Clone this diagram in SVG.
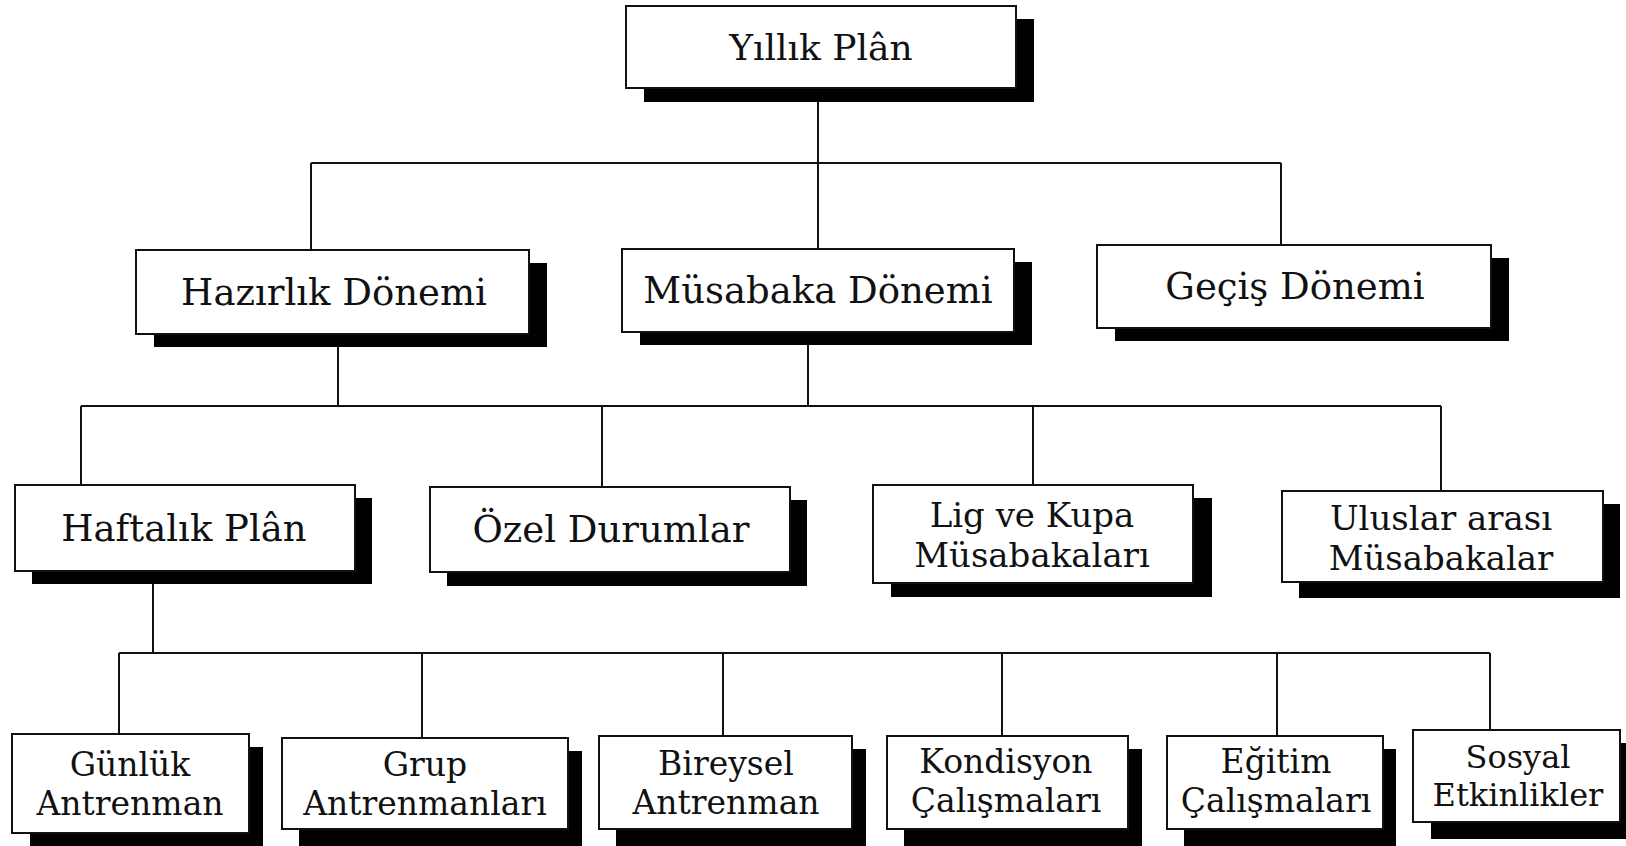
<svg xmlns="http://www.w3.org/2000/svg" width="1626" height="846" viewBox="0 0 1626 846">
<style>
.box{fill:#fff;stroke:#111;stroke-width:2}
.sh{fill:#000}
.ln{stroke:#111;stroke-width:2;fill:none}
text{font-family:"DejaVu Serif","Liberation Serif",serif;fill:#111;text-anchor:middle}
.t1{font-size:36px}
.t2{font-size:37px}
.t3{font-size:34px}
.t4{font-size:33px}
.t4s{font-size:32px}
</style>
<rect width="1626" height="846" fill="#fff"/>
<g id="connectors">
<path class="ln" d="M818 102V249"/>
<path class="ln" d="M311 163H1281M311 163V250M1281 163V245"/>
<path class="ln" d="M338 347V406M808 345V406"/>
<path class="ln" d="M81 406H1441M81 406V485M602 406V487M1033 406V485M1441 406V491"/>
<path class="ln" d="M153 584V653"/>
<path class="ln" d="M119 653H1490M119 653V734M422 653V738M723 653V736M1002 653V736M1277 653V736M1490 653V730"/>
</g>
<g id="yillik-plan">
<rect class="sh" x="644" y="19" width="390" height="83"/>
<rect class="box" x="626" y="6" width="390" height="82"/>
<text class="t1" x="821" y="60">Yıllık Plân</text>
</g>
<g id="hazirlik">
<rect class="sh" x="154" y="263" width="393" height="84"/>
<rect class="box" x="136" y="250" width="393" height="84"/>
<text class="t2" x="334" y="305">Hazırlık Dönemi</text>
</g>
<g id="musabaka">
<rect class="sh" x="640" y="262" width="392" height="83"/>
<rect class="box" x="622" y="249" width="392" height="83"/>
<text class="t2" x="818" y="303">Müsabaka Dönemi</text>
</g>
<g id="gecis">
<rect class="sh" x="1115" y="258" width="394" height="83"/>
<rect class="box" x="1097" y="245" width="394" height="83"/>
<text class="t2" x="1295" y="299">Geçiş Dönemi</text>
</g>
<g id="haftalik">
<rect class="sh" x="32" y="498" width="340" height="86"/>
<rect class="box" x="15" y="485" width="340" height="86"/>
<text class="t2" x="184" y="541">Haftalık Plân</text>
</g>
<g id="ozel">
<rect class="sh" x="447" y="500" width="360" height="86"/>
<rect class="box" x="430" y="487" width="360" height="85"/>
<text class="t2" x="611" y="542">Özel Durumlar</text>
</g>
<g id="lig">
<rect class="sh" x="891" y="498" width="321" height="99"/>
<rect class="box" x="873" y="485" width="320" height="98"/>
<text class="t3" x="1032" y="527">Lig ve Kupa<tspan x="1032" y="567">Müsabakaları</tspan></text>
</g>
<g id="uluslar">
<rect class="sh" x="1299" y="504" width="321" height="94"/>
<rect class="box" x="1282" y="491" width="321" height="91"/>
<text class="t3" x="1441" y="530">Uluslar arası<tspan x="1441" y="570">Müsabakalar</tspan></text>
</g>
<g id="gunluk">
<rect class="sh" x="30" y="747" width="233" height="99"/>
<rect class="box" x="12" y="734" width="237" height="99"/>
<text class="t4" x="130" y="776">Günlük<tspan x="130" y="815">Antrenman</tspan></text>
</g>
<g id="grup">
<rect class="sh" x="299" y="751" width="283" height="95"/>
<rect class="box" x="282" y="738" width="286" height="91"/>
<text class="t4" x="425" y="776">Grup<tspan x="425" y="815">Antrenmanları</tspan></text>
</g>
<g id="bireysel">
<rect class="sh" x="616" y="749" width="250" height="97"/>
<rect class="box" x="599" y="736" width="253" height="93"/>
<text class="t4" x="726" y="775">Bireysel<tspan x="726" y="814">Antrenman</tspan></text>
</g>
<g id="kondisyon">
<rect class="sh" x="904" y="749" width="238" height="97"/>
<rect class="box" x="887" y="736" width="241" height="93"/>
<text class="t4" x="1006" y="773">Kondisyon<tspan x="1006" y="812">Çalışmaları</tspan></text>
</g>
<g id="egitim">
<rect class="sh" x="1184" y="749" width="212" height="97"/>
<rect class="box" x="1167" y="736" width="216" height="93"/>
<text class="t4" x="1276" y="773">Eğitim<tspan x="1276" y="812">Çalışmaları</tspan></text>
</g>
<g id="sosyal">
<rect class="sh" x="1431" y="743" width="207" height="96"/>
<rect class="box" x="1413" y="730" width="207" height="92"/>
<text class="t4s" x="1518" y="768">Sosyal<tspan x="1518" y="806">Etkinlikler</tspan></text>
</g>
</svg>
